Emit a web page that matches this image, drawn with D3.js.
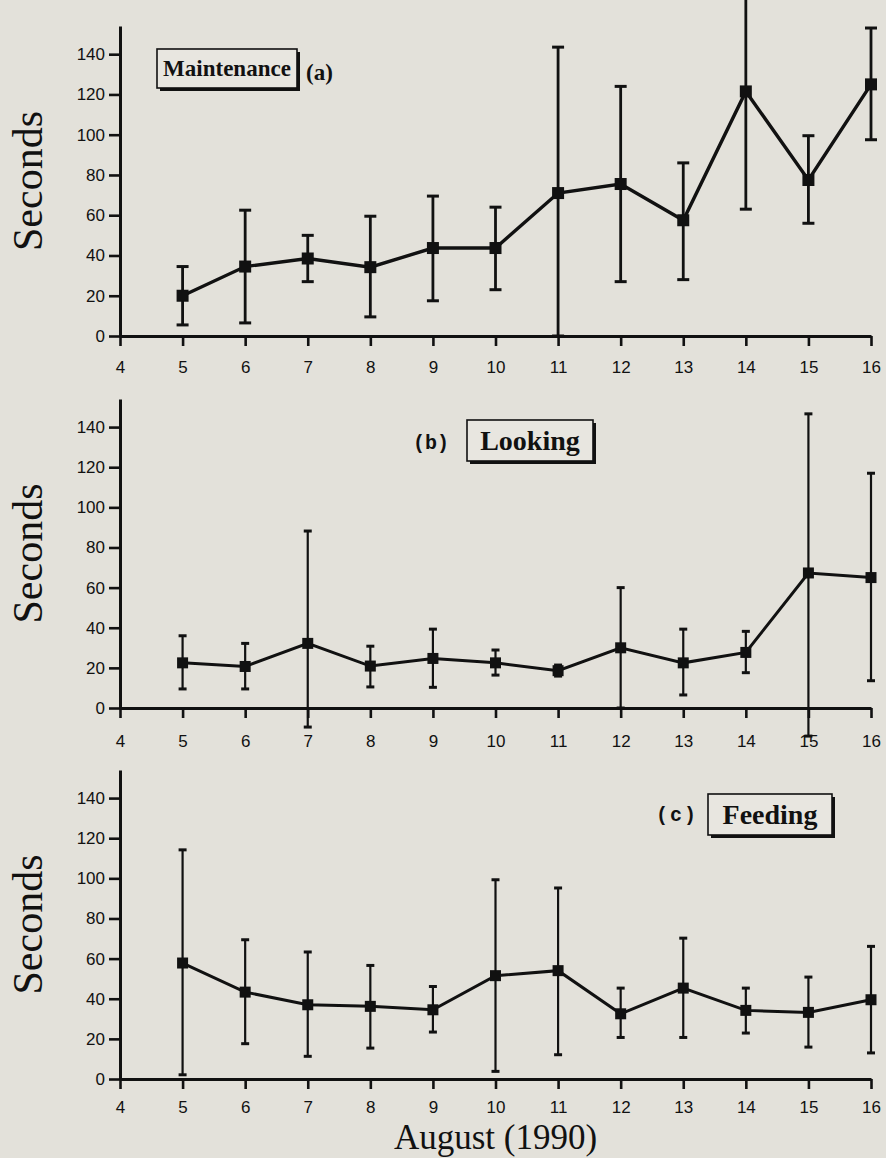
<!DOCTYPE html>
<html>
  <head>
    <style>
      body { margin: 0; background: #e3e1da; }
      svg { display: block; }
    </style>
  </head>
  <body>
    <svg id="chart"></svg>
  </body>
</html>

<script src="https://d3js.org/d3.v7.min.js"></script>

<script>
  const WIDTH = 886;
  const HEIGHT = 1158;
  const BG = '#e3e1da';
  const INK = '#111';

  // data (seconds), days of August 1990
  const days = [5, 6, 7, 8, 9, 10, 11, 12, 13, 14, 15, 16];
  const xTicks = [4, 5, 6, 7, 8, 9, 10, 11, 12, 13, 14, 15, 16];
  const yTicks = [0, 20, 40, 60, 80, 100, 120, 140];

  const maintMean = [20, 34.5, 38.5, 34.2, 43.7, 43.7, 71, 75.5, 57.5, 121.5, 77.5, 125];
  const maintLow  = [5.5, 6.5, 27, 9.5, 17.5, 23, 0, 27, 28, 63, 56, 97.5];
  const maintHigh = [34.5, 62.5, 50, 59.5, 69.5, 64, 143.5, 124, 86, 170, 99.5, 153];

  const lookMean = [22.5, 20.7, 32.2, 20.9, 24.7, 22.5, 18.6, 30, 22.5, 27.7, 67.3, 65];
  const lookLow  = [9.5, 9.5, -9.5, 10.5, 10.3, 16.4, 15.9, 0, 6.5, 17.6, -14, 13.6];
  const lookHigh = [36, 32.2, 88.2, 30.8, 39.3, 28.9, 21.4, 60, 39.3, 38.2, 146.6, 117];

  const feedMean = [57.8, 43.3, 37, 36.2, 34.5, 51.5, 54, 32.5, 45.3, 34.2, 33.2, 39.5];
  const feedLow  = [2.1, 17.6, 11.3, 15.4, 23.4, 3.8, 12.1, 20.7, 20.7, 22.9, 15.9, 13];
  const feedHigh = [114.2, 69.4, 63.3, 56.6, 46.1, 99.3, 95.2, 45.3, 70.2, 45.3, 50.8, 66.1];

  let svg = d3.select('#chart')
    .attr('width', WIDTH)
    .attr('height', HEIGHT)

  svg.append('rect')
    .attr('width', WIDTH)
    .attr('height', HEIGHT)
    .attr('fill', BG)

  let x = d3.scaleLinear().domain([4, 16]).range([120, 871])

  // one panel per behaviour
  let panels = [
    { mean: maintMean, low: maintLow, high: maintHigh, zero: 336, top: 26,
      tickFont: '"Liberation Sans", Arial, sans-serif', pad: 15,
      lineW: 3.4, barW: 2.8, capW: 12, mark: 12 },
    { mean: lookMean, low: lookLow, high: lookHigh, zero: 708, top: 399,
      tickFont: '"Liberation Sans Narrow", "Liberation Sans", sans-serif', pad: 17,
      lineW: 3, barW: 2.2, capW: 8, mark: 11 },
    { mean: feedMean, low: feedLow, high: feedHigh, zero: 1079, top: 770,
      tickFont: '"Liberation Sans Narrow", "Liberation Sans", sans-serif', pad: 12,
      lineW: 3, barW: 2.2, capW: 8, mark: 11 }
  ]

  panels.forEach(function(p) {
    let y = d3.scaleLinear().domain([0, 154]).range([p.zero, p.top])
    let g = svg.append('g')

    // axes
    let yAxis = d3.axisLeft(y).tickValues(yTicks).tickSize(11).tickSizeOuter(0).tickPadding(4)
    let xAxis = d3.axisBottom(x).tickValues(xTicks).tickSize(10).tickSizeOuter(0).tickPadding(p.pad)

    let ya = g.append('g')
      .attr('transform', 'translate(' + x(4) + ',0)')
      .call(yAxis)
    let xa = g.append('g')
      .attr('transform', 'translate(0,' + y(0) + ')')
      .call(xAxis)

    ;[ya, xa].forEach(function(a) {
      a.attr('font-size', 17).attr('font-family', p.tickFont)
      a.select('.domain').attr('stroke', INK).attr('stroke-width', 3)
      a.selectAll('.tick line').attr('stroke', INK).attr('stroke-width', 2.6)
      a.selectAll('.tick text').attr('fill', INK)
    })

    // y axis title
    g.append('text')
      .attr('transform', 'translate(42,' + y(77) + ') rotate(-90)')
      .attr('text-anchor', 'middle')
      .style('font-family', '"Liberation Serif", "Times New Roman", serif')
      .style('font-size', '42px')
      .attr('fill', INK)
      .text('Seconds')

    let pts = days.map(function(d, i) {
      return { day: d, mean: p.mean[i], low: p.low[i], high: p.high[i] }
    })

    // error bars
    let bars = g.selectAll('.bar').data(pts).enter().append('g')
    bars.append('line')
      .attr('x1', d => x(d.day)).attr('x2', d => x(d.day))
      .attr('y1', d => y(d.low)).attr('y2', d => y(d.high))
      .attr('stroke', INK).attr('stroke-width', p.barW)
    bars.append('line')
      .attr('x1', d => x(d.day) - p.capW / 2).attr('x2', d => x(d.day) + p.capW / 2)
      .attr('y1', d => y(d.high)).attr('y2', d => y(d.high))
      .attr('stroke', INK).attr('stroke-width', 3)
    bars.append('line')
      .attr('x1', d => x(d.day) - p.capW / 2).attr('x2', d => x(d.day) + p.capW / 2)
      .attr('y1', d => y(d.low)).attr('y2', d => y(d.low))
      .attr('stroke', INK).attr('stroke-width', 3)

    // mean line
    let line = d3.line().x(d => x(d.day)).y(d => y(d.mean))
    g.append('path')
      .datum(pts)
      .attr('d', line)
      .attr('fill', 'none')
      .attr('stroke', INK)
      .attr('stroke-width', p.lineW)
      .attr('stroke-linejoin', 'miter')

    g.selectAll('.mk').data(pts).enter().append('rect')
      .attr('x', d => x(d.day) - p.mark / 2)
      .attr('y', d => y(d.mean) - p.mark / 2)
      .attr('width', p.mark)
      .attr('height', p.mark)
      .attr('fill', INK)
  })

  // boxed panel labels with drop shadow
  function boxLabel(bx, by, bw, bh, text, size) {
    svg.append('rect')
      .attr('x', bx + 3).attr('y', by + 3)
      .attr('width', bw).attr('height', bh)
      .attr('fill', INK)
    svg.append('rect')
      .attr('x', bx).attr('y', by)
      .attr('width', bw).attr('height', bh)
      .attr('fill', '#e8e6e0')
      .attr('stroke', INK)
      .attr('stroke-width', 1.6)
    svg.append('text')
      .attr('x', bx + bw / 2).attr('y', by + bh / 2 + size * 0.33)
      .attr('text-anchor', 'middle')
      .style('font-family', '"Liberation Serif", "Times New Roman", serif')
      .style('font-weight', 'bold')
      .style('font-size', size + 'px')
      .attr('fill', INK)
      .text(text)
  }

  boxLabel(157, 49, 140, 39, 'Maintenance', 23)
  svg.append('text')
    .attr('x', 306).attr('y', 80)
    .style('font-family', '"Liberation Serif", serif')
    .style('font-weight', 'bold')
    .style('font-size', '23px')
    .attr('fill', INK)
    .text('(a)')

  boxLabel(467, 420, 126, 41, 'Looking', 28)
  svg.append('text')
    .attr('x', 413).attr('y', 449)
    .style('font-family', '"Liberation Mono", "DejaVu Sans Mono", monospace')
    .style('font-weight', 'bold')
    .style('font-size', '20px')
    .attr('fill', INK)
    .text('(b)')

  boxLabel(708, 794, 124, 41, 'Feeding', 28)
  svg.append('text')
    .attr('x', 656).attr('y', 821)
    .style('font-family', '"Liberation Mono", "DejaVu Sans Mono", monospace')
    .style('font-weight', 'bold')
    .style('font-size', '20px')
    .style('letter-spacing', '2px')
    .attr('fill', INK)
    .text('(c)')

  // shared x axis title
  svg.append('text')
    .attr('x', x(10)).attr('y', 1149)
    .attr('text-anchor', 'middle')
    .style('font-family', '"Liberation Serif", "Times New Roman", serif')
    .style('font-size', '35px')
    .attr('fill', INK)
    .text('August (1990)')
</script>
